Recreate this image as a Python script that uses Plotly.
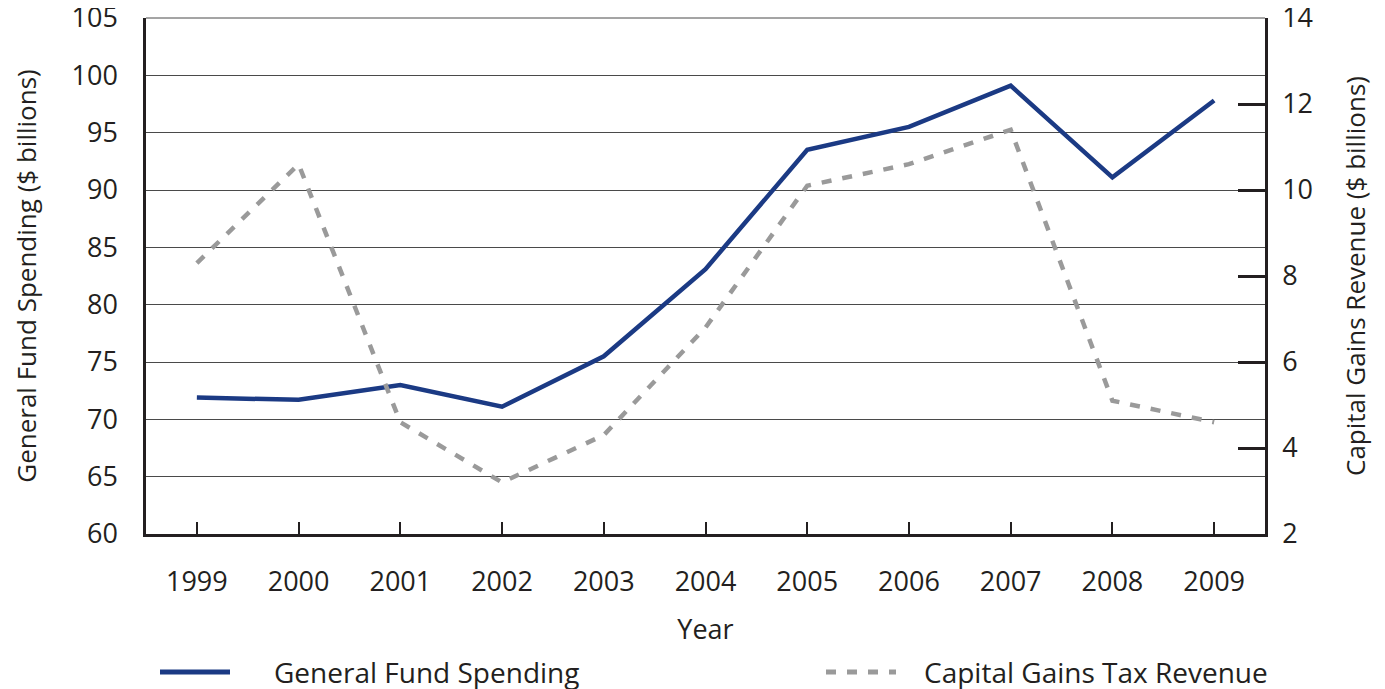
import plotly.graph_objects as go

years = ["1999", "2000", "2001", "2002", "2003", "2004", "2005", "2006", "2007", "2008", "2009"]
general_fund = [71.9, 71.7, 73.0, 71.1, 75.5, 83.1, 93.5, 95.5, 99.1, 91.1, 97.8]
capital_gains = [8.3, 10.6, 4.6, 3.2, 4.3, 6.8, 10.1, 10.6, 11.4, 5.1, 4.6]

FONT = "Open Sans"
TXT = "#231f20"
BLUE = "#1b3a84"
GREY = "#9a9a9a"

# page body has an 8px margin; size the figure so the plot area lands where the reference has it
W, H = 1377, 681
L, T, R, B = 138, 10, 120, 155
PW, PH = W - L - R, H - T - B

fig = go.Figure()
fig.add_trace(go.Scatter(x=years, y=general_fund, mode="lines", name="General Fund Spending",
                         line=dict(color=BLUE, width=4.5), showlegend=False))
fig.add_trace(go.Scatter(x=years, y=capital_gains, mode="lines", name="Capital Gains Tax Revenue",
                         line=dict(color=GREY, width=4.5, dash="10px,11px"), yaxis="y2", showlegend=False))

TICKF = dict(family=FONT, size=27, color=TXT)

fig.update_layout(
    width=W, height=H,
    margin=dict(l=L, r=R, t=T, b=B),
    paper_bgcolor="white", plot_bgcolor="white",
    font=dict(family=FONT, size=26, color=TXT),
    xaxis=dict(type="category", range=[-0.5, 10.5], showgrid=False, automargin=False,
               showline=True, linecolor=TXT, linewidth=2.5,
               ticks="inside", ticklen=12, tickwidth=1.5, tickcolor=TXT, tickfont=TICKF,
               title=dict(text="Year", standoff=22, font=dict(size=27)), ticklabelstandoff=22),
    yaxis=dict(range=[60, 105], dtick=5, showgrid=True, gridcolor="#4a4a4a", gridwidth=1,
               showline=True, linecolor=TXT, linewidth=2.5, ticks="", zeroline=False, automargin=False,
               tickfont=TICKF, ticklabeloverflow="allow",
               title=dict(text="General Fund Spending ($ billions)", standoff=37, font=dict(size=26)),
               ticklabelstandoff=20),
    yaxis2=dict(range=[2, 14], dtick=2, overlaying="y", side="right", showgrid=False, automargin=False,
                showline=True, linecolor=TXT, linewidth=2.5, zeroline=False, ticklabeloverflow="allow",
                ticks="inside", ticklen=27, tickwidth=2.5, tickcolor=TXT, tickfont=TICKF,
                title=dict(text="Capital Gains Revenue ($ billions)", standoff=35, font=dict(size=26)),
                ticklabelstandoff=9),
)

# Manual legend (layout decorations)
LY = -(664 - (T + PH)) / PH
shapes = [
    dict(type="line", xref="paper", yref="paper", x0=0, x1=1, y0=1, y1=1,
         line=dict(color="#4a4a4a", width=1)),
    dict(type="line", xref="paper", yref="paper", x0=(152 - L) / PW, x1=(222 - L) / PW,
         y0=LY, y1=LY, line=dict(color=BLUE, width=5)),
    dict(type="line", xref="paper", yref="paper", x0=(818 - L) / PW, x1=(888 - L) / PW,
         y0=LY, y1=LY, line=dict(color=GREY, width=5, dash="10px,11px")),
]
fig.update_layout(shapes=shapes)
fig.add_annotation(xref="paper", yref="paper", x=(264 - L) / PW, y=LY,
                   xanchor="left", yanchor="middle", text="General Fund Spending",
                   showarrow=False, font=dict(size=28, family=FONT, color=TXT))
fig.add_annotation(xref="paper", yref="paper", x=(914 - L) / PW, y=LY,
                   xanchor="left", yanchor="middle", text="Capital Gains Tax Revenue",
                   showarrow=False, font=dict(size=28, family=FONT, color=TXT))

fig.write_html("out.html")
